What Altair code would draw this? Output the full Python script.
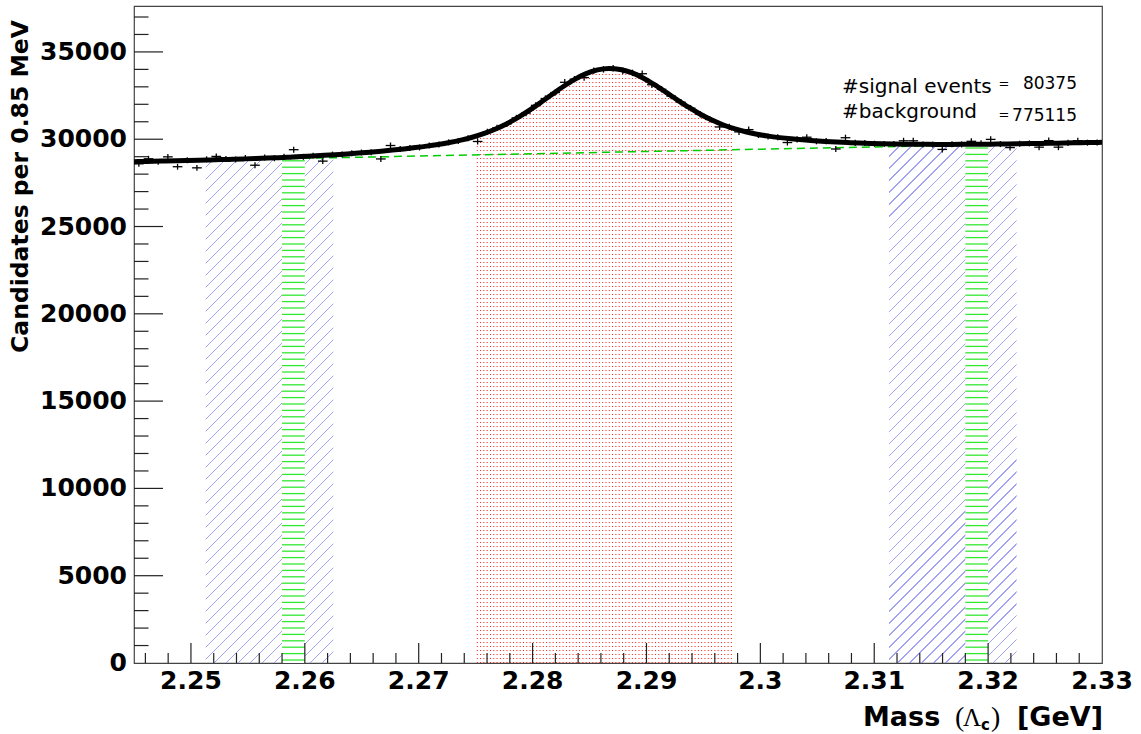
import altair as alt
import numpy as np
import pandas as pd

# ---------------- data ----------------
X_MIN, X_MAX = 2.245, 2.33
BIN_W = 0.00085
counts = [
    28590, 28880, 28700, 28990, 28425, 28800, 28360, 28850, 29015, 28870,
    28840, 28920, 28510, 28950, 28910, 29000, 29400, 28990, 29060, 28745,
    29120, 29130, 29200, 29240, 29250, 28870, 29640, 29440, 29500, 29530,
    29640, 29700, 29820, 29900, 30060, 29870, 30420, 30650, 30870, 31220,
    31500, 31940, 32330, 32670, 33260, 33440, 33530, 33930, 34000, 34070,
    33920, 33800, 33750, 33120, 32860, 32470, 32120, 31780, 31420, 31130,
    30700, 30710, 30420, 30550, 30240, 30160, 30110, 29810, 29990, 30115,
    29880, 29890, 29440, 30085, 29790, 29780, 29740, 29730, 29720, 29910,
    29910, 29700, 29690, 29415, 29710, 29700, 29880, 29770, 29990, 29720,
    29520, 29740, 29760, 29545, 29920, 29545, 29790, 29915, 29800, 29815,
]

fit_mass = [2.245] + [round(2.2867 + 0.001 * j, 4) for j in range(-41, 44)] + [2.33]
fit_value = [
    28713,
    28723, 28737, 28752, 28767, 28782, 28798, 28816, 28834, 28853, 28874,
    28896, 28920, 28945, 28974, 29004, 29038, 29075, 29115, 29159, 29206,
    29258, 29315, 29377, 29445, 29520, 29603, 29699, 29811, 29947, 30113,
    30318, 30570, 30875, 31236, 31648, 32098, 32565, 33020, 33429, 33757,
    33972, 34055, 33998, 33809, 33508, 33125, 32696, 32255, 31831, 31445,
    31110, 30831, 30605, 30426, 30286, 30176, 30091, 30021, 29964, 29915,
    29874, 29838, 29807, 29781, 29760, 29742, 29728, 29717, 29709, 29705,
    29702, 29703, 29705, 29710, 29715, 29722, 29730, 29739, 29749, 29760,
    29771, 29782, 29794, 29806, 29818,
    29822,
]

bkg_mass = [2.245, 2.33]
bkg_value = [28710, 29820]

signal_window = (2.2751, 2.2975)
sidebands = [(2.2513, 2.2625), (2.3113, 2.3225)]
green_bands = [(2.2580, 2.2600), (2.3180, 2.3200)]

x_tick_values = [2.25, 2.26, 2.27, 2.28, 2.29, 2.30, 2.31, 2.32, 2.33]
x_tick_labels = ["2.25", "2.26", "2.27", "2.28", "2.29", "2.3", "2.31", "2.32", "2.33"]
y_tick_values = [0, 5000, 10000, 15000, 20000, 25000, 30000, 35000]
y_tick_labels = ["0", "5000", "10000", "15000", "20000", "25000", "30000", "35000"]

legend_names = ["#signal events", "#background"]
legend_numbers = ["80375", "775115"]

y_title = "Candidates per 0.85 MeV"

# ---------------- geometry / style ----------------
W, H = 968, 657
Y_MAX = 37630
FONT = "DejaVu Sans"
PX_V = Y_MAX / H                  # data units per vertical pixel
PX_M = (X_MAX - X_MIN) / W        # mass units per horizontal pixel

xs = alt.Scale(domain=[X_MIN, X_MAX], nice=False, zero=False)
ys = alt.Scale(domain=[0, Y_MAX], nice=False, zero=False)

fm = np.array(fit_mass, dtype=float)
fv = np.array(fit_value, dtype=float)


def band_df(lo, hi):
    inside = (fm > lo) & (fm < hi)
    mx = np.concatenate([[lo], fm[inside], [hi]])
    my = np.interp(mx, fm, fv)
    return pd.DataFrame({"m": mx, "v": my, "top": my.max() + 4 * PX_V})


def stripe_stops(n, frac, color, bg):
    stops = []
    for k in range(n):
        a = k / n
        b = (k + frac) / n
        c = (k + 1) / n
        stops += [
            {"offset": round(a, 6), "color": color},
            {"offset": round(b, 6), "color": color},
            {"offset": round(b, 6), "color": bg},
            {"offset": round(c, 6), "color": bg},
        ]
    return stops


def px_w(lo, hi):
    return (hi - lo) / (X_MAX - X_MIN) * W


CLEAR = "rgba(255,255,255,0)"
layers = []


def area_layer(df, fill, upper=False):
    enc = dict(x=alt.X("m:Q", scale=xs, axis=None), y=alt.Y("v:Q", scale=ys, axis=None))
    if upper:
        enc["y2"] = "top:Q"
    return alt.Chart(df).mark_area(fill=fill, opacity=1, interpolate="monotone").encode(**enc)


# red dotted signal window: dotted rows (on pixel centres), trimmed above the fit by a white cover
red = band_df(*signal_window)
n_rows = int(red["v"].max() / PX_V / 4) + 1
red_rows = pd.DataFrame({"v": [(0.5 + 4 * k) * PX_V for k in range(n_rows)]})
red_rows["lo"], red_rows["hi"] = signal_window
layers.append(alt.Chart(red_rows).mark_rule(color="#ff1a1a", strokeWidth=1, strokeDash=[1, 2.3]).encode(
    x=alt.X("lo:Q", scale=xs, axis=None), x2="hi:Q", y=alt.Y("v:Q", scale=ys, axis=None)))
cover = band_df(signal_window[0] - 1.5 * PX_M, signal_window[1] + 1.5 * PX_M)
layers.append(area_layer(cover, "white", upper=True))

# blue diagonal sidebands
for lo, hi in sidebands:
    d = band_df(lo, hi)
    bw, bh = px_w(lo, hi), d["v"].max() / PX_V
    k = (bw + bh) / (bw ** 2 + bh ** 2)
    n = int(round((bw + bh) / 12.0))
    g = {"gradient": "linear", "x1": 0, "y1": 0, "x2": k * bw, "y2": k * bh,
         "stops": stripe_stops(n, 1.3 * n / (bw + bh), "#a2a2f2", CLEAR)}
    layers.append(area_layer(d, g))

# green horizontal hatched bands (white base + green rows)
for lo, hi in green_bands:
    d = band_df(lo, hi)
    layers.append(area_layer(d, "white"))
    rows = pd.DataFrame({"v": np.arange(3.0 * PX_V, d["v"].min() - 3 * PX_V, 6.4 * PX_V)})
    rows["lo"], rows["hi"] = lo, hi
    layers.append(alt.Chart(rows).mark_rule(color="#33e833", strokeWidth=1.3).encode(
        x=alt.X("lo:Q", scale=xs, axis=None), x2="hi:Q", y=alt.Y("v:Q", scale=ys, axis=None)))

# background (dashed green) and fit (thick black)
bkg = pd.DataFrame({"m": bkg_mass, "v": bkg_value})
layers.append(alt.Chart(bkg).mark_line(color="#00cc00", strokeWidth=1.5, strokeDash=[8, 5]).encode(
    x=alt.X("m:Q", scale=xs, axis=None), y=alt.Y("v:Q", scale=ys, axis=None)))
fit = pd.DataFrame({"m": fit_mass, "v": fit_value})
layers.append(alt.Chart(fit).mark_line(color="black", strokeWidth=5, interpolate="monotone").encode(
    x=alt.X("m:Q", scale=xs, axis=None), y=alt.Y("v:Q", scale=ys, axis=None)))

# histogram points with error bars
edges = [X_MIN + BIN_W * i for i in range(len(counts))]
hist = pd.DataFrame({
    "lo": edges,
    "hi": [e + BIN_W for e in edges],
    "c": [e + BIN_W / 2 for e in edges],
    "n": counts,
})
hist["elo"] = hist["n"] - np.sqrt(hist["n"])
hist["ehi"] = hist["n"] + np.sqrt(hist["n"])
layers.append(alt.Chart(hist).mark_rule(color="black", strokeWidth=1.3).encode(
    x=alt.X("lo:Q", scale=xs, axis=None), x2="hi:Q", y=alt.Y("n:Q", scale=ys, axis=None)))
layers.append(alt.Chart(hist).mark_rule(color="black", strokeWidth=1.3).encode(
    x=alt.X("c:Q", scale=xs, axis=None), y=alt.Y("elo:Q", scale=ys, axis=None), y2="ehi:Q"))

# ticks (inward, ROOT style)
x_major = pd.DataFrame({"t": x_tick_values[:-1]})
x_minor = pd.DataFrame({"t": [round(2.246 + 0.002 * k, 3) for k in range(42) if (k - 2) % 5 != 0]})
y_major = pd.DataFrame({"t": y_tick_values[1:]})
y_minor = pd.DataFrame({"t": [v for v in range(1000, 38000, 1000) if v % 5000 != 0]})
TC = "#222222"
layers.append(alt.Chart(x_major).mark_rule(color=TC, strokeWidth=1.2).encode(
    x=alt.X("t:Q", scale=xs, axis=None), y=alt.value(H - 20), y2=alt.value(H)))
layers.append(alt.Chart(x_minor).mark_rule(color=TC, strokeWidth=1.2).encode(
    x=alt.X("t:Q", scale=xs, axis=None), y=alt.value(H - 10), y2=alt.value(H)))
layers.append(alt.Chart(y_major).mark_rule(color=TC, strokeWidth=1.2).encode(
    y=alt.Y("t:Q", scale=ys, axis=None), x=alt.value(0), x2=alt.value(29)))
layers.append(alt.Chart(y_minor).mark_rule(color=TC, strokeWidth=1.2).encode(
    y=alt.Y("t:Q", scale=ys, axis=None), x=alt.value(0), x2=alt.value(14.5)))

# tick labels
xl = pd.DataFrame({"v": x_tick_values, "label": x_tick_labels})
yl = pd.DataFrame({"v": y_tick_values, "label": y_tick_labels})
layers.append(alt.Chart(xl).mark_text(font=FONT, fontWeight="bold", fontSize=25, align="center",
                                      baseline="top", color="black").encode(
    x=alt.X("v:Q", scale=xs, axis=None), y=alt.value(H + 6), text="label:N"))
layers.append(alt.Chart(yl).mark_text(font=FONT, fontWeight="bold", fontSize=25, align="right",
                                      baseline="middle", color="black").encode(
    y=alt.Y("v:Q", scale=ys, axis=None), x=alt.value(-7), text="label:N"))


def text_at(txt, x, y, **kw):
    return alt.Chart(pd.DataFrame({"t": [txt]})).mark_text(**kw).encode(
        x=alt.value(x), y=alt.value(y), text="t:N")


# axis titles
layers.append(text_at(y_title, -113, 14, font=FONT, fontWeight="bold", fontSize=23.5,
                      angle=270, align="right", baseline="middle", color="black"))
BX = 720
layers.append(text_at("Mass", 729, BX, font=FONT, fontWeight="bold", fontSize=27,
                      align="left", baseline="alphabetic", color="black"))
layers.append(text_at("(", 821, BX, font="Liberation Serif", fontSize=28,
                      align="left", baseline="alphabetic", color="black"))
layers.append(text_at("\u039b", 829, BX, font="Liberation Serif", fontSize=25,
                      align="left", baseline="alphabetic", color="black"))
layers.append(text_at("c", 847, BX + 4, font=FONT, fontWeight="bold", fontSize=15,
                      align="left", baseline="alphabetic", color="black"))
layers.append(text_at(")", 857, BX, font="Liberation Serif", fontSize=28,
                      align="left", baseline="alphabetic", color="black"))
layers.append(text_at("[GeV]", 969, BX, font=FONT, fontWeight="bold", fontSize=27,
                      align="right", baseline="alphabetic", color="black"))

# legend text
layers.append(text_at(legend_names[0], 708, 87, font=FONT, fontSize=20, align="left",
                      baseline="alphabetic", color="black"))
layers.append(text_at(legend_names[1], 708, 112, font=FONT, fontSize=20, align="left",
                      baseline="alphabetic", color="black"))
layers.append(text_at("=", 870, 78, font=FONT, fontSize=13, align="center",
                      baseline="middle", color="black"))
layers.append(text_at("=", 870, 109, font=FONT, fontSize=13, align="center",
                      baseline="middle", color="black"))
layers.append(text_at(legend_numbers[0], 943, 83, font=FONT, fontSize=17, align="right",
                      baseline="alphabetic", color="black"))
layers.append(text_at(legend_numbers[1], 943, 115, font=FONT, fontSize=17, align="right",
                      baseline="alphabetic", color="black"))

chart = alt.layer(*layers).properties(
    width=W, height=H,
    autosize=alt.AutoSizeParams(type="none"),
    padding={"left": 134, "top": 6, "right": 39, "bottom": 71},
    background="white",
).configure_view(stroke="#444444", strokeWidth=1.2)

chart.save("out.html", embed_options={"renderer": "svg", "actions": False})
